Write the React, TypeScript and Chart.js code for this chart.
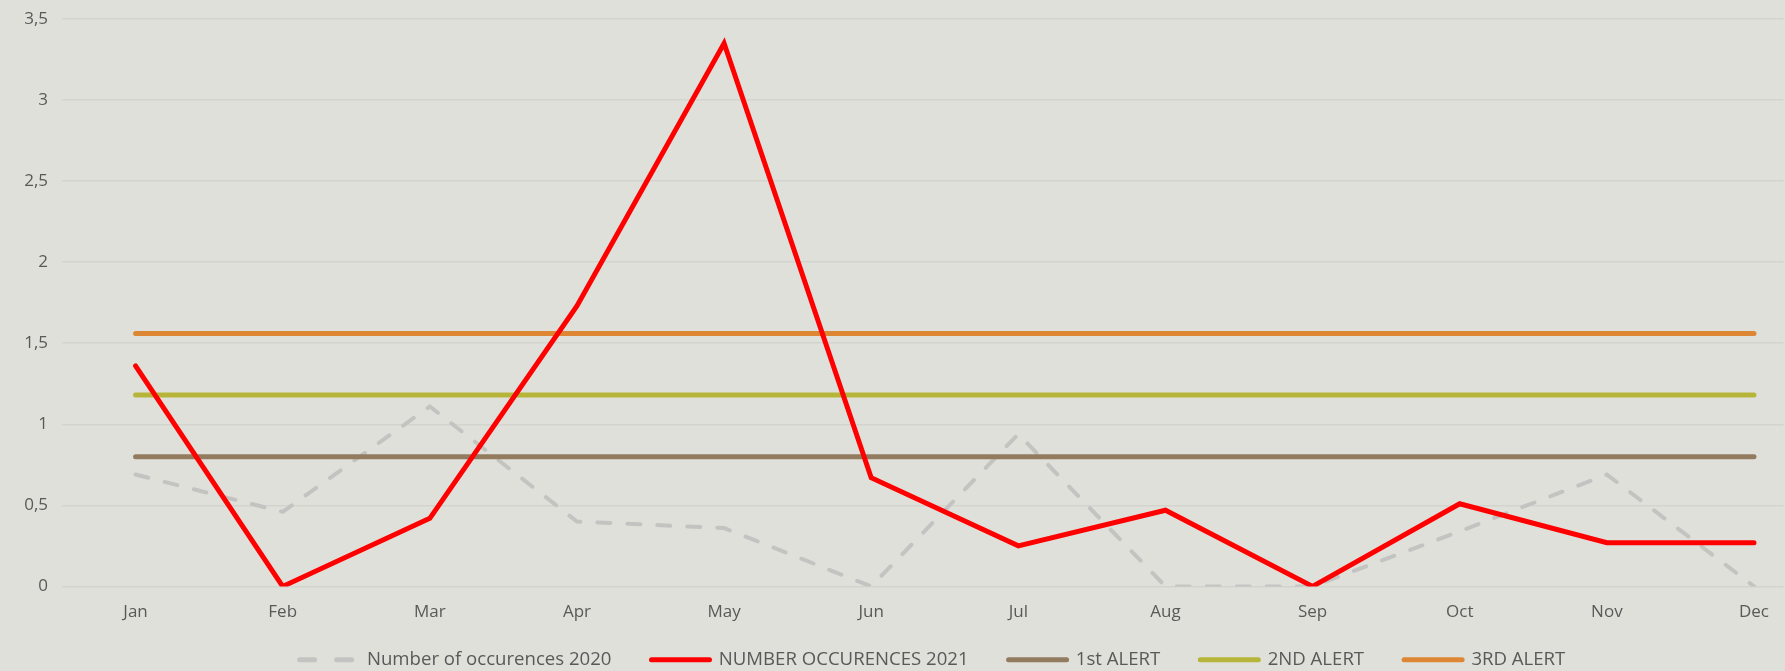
import React, { useEffect, useRef } from "react";
import { Chart, registerables } from "chart.js";

Chart.register(...registerables);

const months = ["Jan", "Feb", "Mar", "Apr", "May", "Jun", "Jul", "Aug", "Sep", "Oct", "Nov", "Dec"];
const occ2020 = [0.69, 0.46, 1.11, 0.40, 0.36, 0.0, 0.94, 0.0, 0.0, 0.34, 0.69, 0.0];
const occ2021 = [1.36, 0.0, 0.42, 1.73, 3.35, 0.67, 0.25, 0.47, 0.0, 0.51, 0.27, 0.27];
const alert1 = [0.8, 0.8, 0.8, 0.8, 0.8, 0.8, 0.8, 0.8, 0.8, 0.8, 0.8, 0.8];
const alert2 = [1.18, 1.18, 1.18, 1.18, 1.18, 1.18, 1.18, 1.18, 1.18, 1.18, 1.18, 1.18];
const alert3 = [1.56, 1.56, 1.56, 1.56, 1.56, 1.56, 1.56, 1.56, 1.56, 1.56, 1.56, 1.56];
const yTicks = [0, 0.5, 1, 1.5, 2, 2.5, 3, 3.5];

const BG = "#e0e0da";
const toPts = (arr: number[]) => arr.map((y, i) => ({ x: i, y }));

export default function App() {
  const ref = useRef<HTMLCanvasElement | null>(null);
  useEffect(() => {
    document.body.style.margin = "0";
    document.body.style.background = BG;
    const bgPlugin = {
      id: "bg",
      beforeDraw(chart: any) {
        const ctx = chart.ctx;
        ctx.save();
        ctx.fillStyle = BG;
        ctx.fillRect(0, 0, chart.width, chart.height);
        ctx.restore();
      },
    };
    const shiftLegend = {
      id: "shiftLegend",
      afterLayout(chart: any) {
        const lg = chart.legend;
        if (lg) {
          lg.left += 40;
          lg.right += 40;
        }
      },
    };
    const tickFont = { family: "'Open Sans', sans-serif", size: 17 };
    const chart = new Chart(ref.current!, {
      type: "line",
      data: {
        datasets: [
          {
            label: "Number of occurences 2020",
            data: toPts(occ2020),
            borderColor: "#c3c3c1",
            backgroundColor: "#c3c3c1",
            borderWidth: 4,
            borderDash: [13, 17],
            borderCapStyle: "round",
            pointRadius: 0,
            order: 5,
          },
          {
            label: "NUMBER OCCURENCES 2021",
            data: toPts(occ2021),
            borderColor: "#ff0000",
            backgroundColor: "#ff0000",
            borderWidth: 5,
            borderCapStyle: "round",
            pointRadius: 0,
            order: 1,
          },
          {
            label: "1st ALERT",
            data: toPts(alert1),
            borderColor: "#937b60",
            backgroundColor: "#937b60",
            borderWidth: 5,
            borderCapStyle: "round",
            pointRadius: 0,
            order: 4,
          },
          {
            label: "2ND ALERT",
            data: toPts(alert2),
            borderColor: "#b6b53a",
            backgroundColor: "#b6b53a",
            borderWidth: 5,
            borderCapStyle: "round",
            pointRadius: 0,
            order: 3,
          },
          {
            label: "3RD ALERT",
            data: toPts(alert3),
            borderColor: "#dd8735",
            backgroundColor: "#dd8735",
            borderWidth: 5,
            borderCapStyle: "round",
            pointRadius: 0,
            order: 2,
          },
        ],
      },
      options: {
        animation: false,
        responsive: false,
        maintainAspectRatio: false,
        layout: { padding: { top: 19, right: 0, left: 0, bottom: -8 } },
        scales: {
          x: {
            type: "linear",
            min: -0.5,
            max: 11.2,
            afterBuildTicks: (axis: any) => {
              axis.ticks = months.map((_, i) => ({ value: i }));
            },
            afterFit: (axis: any) => {
              axis.height = 24;
              axis._computeLabelArea = () => undefined;
            },
            grid: { display: false, drawTicks: false },
            border: { display: false },
            ticks: {
              color: "#595959",
              font: tickFont,
              padding: 16,
              maxRotation: 0,
              autoSkip: false,
              callback: (v: any) => months[v] ?? "",
            },
          },
          y: {
            min: 0,
            max: 3.5,
            afterBuildTicks: (axis: any) => {
              axis.ticks = yTicks.map((value) => ({ value }));
            },
            afterFit: (axis: any) => {
              axis.width = 62;
              axis.paddingTop = 6;
              axis.paddingBottom = 6;
            },
            grid: { color: "#d4d4cf", lineWidth: 1.5, drawTicks: false },
            border: { display: false },
            ticks: {
              color: "#595959",
              font: tickFont,
              padding: 14,
              callback: (v: any) => String(v).replace(".", ","),
            },
          },
        },
        plugins: {
          tooltip: { enabled: false },
          legend: {
            position: "bottom",
            labels: {
              usePointStyle: true,
              pointStyle: "line",
              pointStyleWidth: 58,
              boxHeight: 4,
              padding: 40,
              color: "#595959",
              font: { family: "'Open Sans', sans-serif", size: 18.6 },
              sort: (a: any, b: any) => a.datasetIndex - b.datasetIndex,
              generateLabels: (c: any) => {
                const items = (Chart.defaults.plugins.legend.labels as any).generateLabels(c);
                return items.map((it: any) => {
                  const ds = c.data.datasets[it.datasetIndex];
                  return {
                    ...it,
                    lineDash: ds.borderDash ? [15, 22] : [],
                    lineCap: "round",
                    lineWidth: 5,
                  };
                });
              },
            },
          },
        },
      },
      plugins: [bgPlugin, shiftLegend],
    } as any);
    return () => chart.destroy();
  }, []);
  return (
    <div style={{ width: 1785, height: 671, background: BG }}>
      <canvas ref={ref} width={1785} height={671} style={{ display: "block" }} />
    </div>
  );
}
